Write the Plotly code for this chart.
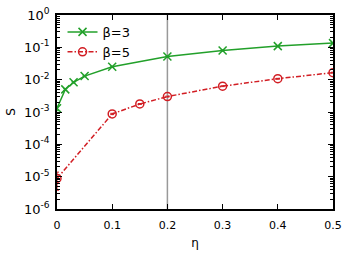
import plotly.graph_objects as go

eta3 = [0, 0.015, 0.03, 0.05, 0.1, 0.2, 0.3, 0.4, 0.5]
s3 = [1.3e-3, 5.0e-3, 8.3e-3, 1.29e-2, 2.5e-2, 5.2e-2, 8.0e-2, 1.09e-1, 1.35e-1]
err3 = [2e-4, 3e-4, 4e-4, 6e-4, 1e-3, 2e-3, 3e-3, 4e-3, 5e-3]

eta5 = [0, 0.1, 0.15, 0.2, 0.3, 0.4, 0.5]
s5 = [8.8e-6, 8.7e-4, 1.77e-3, 3.0e-3, 6.3e-3, 1.07e-2, 1.65e-2]
err5 = [5e-6, 4e-5, 6e-5, 1e-4, 2e-4, 3e-4, 5e-4]

x_ticks = [0, 0.1, 0.2, 0.3, 0.4, 0.5]
x_labels = ["0", "0.1", "0.2", "0.3", "0.4", "0.5"]
y_ticks = [1e-6, 1e-5, 1e-4, 1e-3, 1e-2, 1e-1, 1]
y_labels = ["10<sup>-6</sup>", "10<sup>-5</sup>", "10<sup>-4</sup>", "10<sup>-3</sup>",
            "10<sup>-2</sup>", "10<sup>-1</sup>", "10<sup>0</sup>"]

vline_eta = 0.2
green = "#22a02a"
red = "#d21e24"
font = "DejaVu Sans"

fig = go.Figure()
fig.add_trace(go.Scatter(
    x=eta3, y=s3, name="β=3", mode="lines+markers",
    line=dict(color=green, width=1.5),
    marker=dict(symbol="x-thin", size=8, line=dict(color=green, width=1.5)),
    error_y=dict(type="data", array=err3, color=green, thickness=1, width=2),
))
fig.add_trace(go.Scatter(
    x=eta5, y=s5, name="β=5", mode="lines+markers",
    line=dict(color=red, width=1.5, dash="5px,2px,1.5px,2px"),
    marker=dict(symbol="circle-open", size=8, line=dict(color=red, width=1.5)),
    error_y=dict(type="data", array=err5, color=red, thickness=1, width=2),
))
fig.add_shape(type="line", xref="x", yref="paper", x0=vline_eta, x1=vline_eta,
              y0=0, y1=1, line=dict(color="#999999", width=1.5), layer="below")

fig.update_layout(
    width=356, height=255,
    margin=dict(l=57, r=23, t=15, b=46, autoexpand=False),
    plot_bgcolor="white", paper_bgcolor="white",
    font=dict(family=font, size=11, color="black"),
    showlegend=True,
    legend=dict(x=0.02, y=0.99, xanchor="left", yanchor="top",
                bgcolor="rgba(0,0,0,0)", font=dict(size=13),
                tracegroupgap=0, itemwidth=30),
)
fig.update_xaxes(
    range=[0, 0.5], tickvals=x_ticks, ticktext=x_labels, tickangle=0,
    showline=True, linecolor="black", linewidth=1.5, mirror="ticks",
    ticks="inside", ticklen=5, tickcolor="black", showgrid=False, zeroline=False,
    automargin=False, tickfont=dict(size=11), ticklabelstandoff=5,
    title=dict(text="η", standoff=8, font=dict(size=12)),
)
fig.update_yaxes(
    type="log", range=[-6, 0], tickvals=y_ticks, ticktext=y_labels,
    showline=True, linecolor="black", linewidth=1.5, mirror="ticks",
    ticks="inside", ticklen=5, tickcolor="black", showgrid=False, zeroline=False,
    automargin=False, tickfont=dict(size=13), ticklabelstandoff=3,
    minor=dict(ticks="inside", ticklen=3, tickcolor="black", showgrid=False,
               tickvals=[m * 10.0 ** e for e in range(-6, 0) for m in range(2, 10)]),
    title=dict(text="S", standoff=6, font=dict(size=12)),
)

fig.write_html("out.html", config={"displayModeBar": False},
               post_script="document.body.style.margin='0';")
